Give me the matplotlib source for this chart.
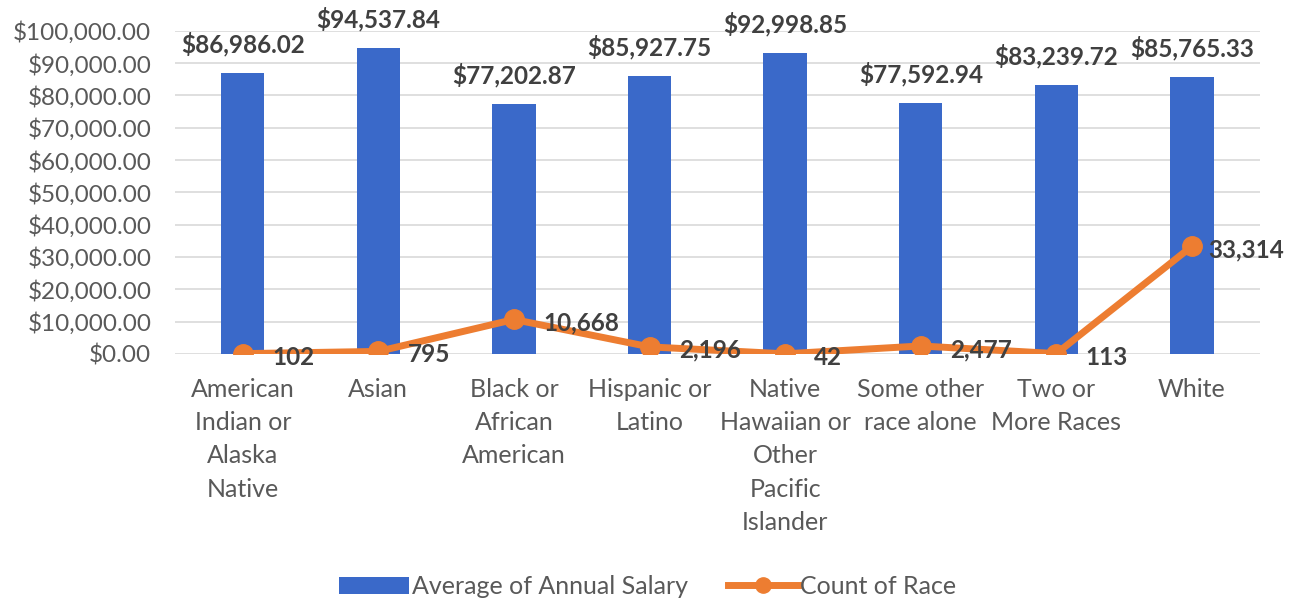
import matplotlib.pyplot as plt
from matplotlib.lines import Line2D
from matplotlib.patches import Patch
from matplotlib.ticker import FuncFormatter

plt.rcParams["font.family"] = ["Lato", "DejaVu Sans"]

categories = [
    "American\nIndian or\nAlaska\nNative",
    "Asian",
    "Black or\nAfrican\nAmerican",
    "Hispanic or\nLatino",
    "Native\nHawaiian or\nOther\nPacific\nIslander",
    "Some other\nrace alone",
    "Two or\nMore Races",
    "White",
]
avg_salary = [86986.02, 94537.84, 77202.87, 85927.75, 92998.85, 77592.94, 83239.72, 85765.33]
race_count = [102, 795, 10668, 2196, 42, 2477, 113, 33314]

BLUE = "#3A69C9"
ORANGE = "#ED7D31"
TEXT = "#404040"
TICK = "#595959"

fig = plt.figure(figsize=(12.96, 6.03), dpi=100)
ax = fig.add_axes([0.135, 0.413, 0.837, 0.536])

x = list(range(len(categories)))
ax.bar(x, avg_salary, width=0.32, color=BLUE, zorder=2)
ax.plot(x, race_count, color=ORANGE, lw=5, marker="o", ms=14, zorder=3,
        solid_capstyle="round")

for xi, v in zip(x, avg_salary):
    ax.annotate(f"${v:,.2f}", (xi, v), xytext=(0, 12), textcoords="offset points",
                ha="center", va="bottom", fontsize=17.5, fontweight="bold",
                color=TEXT, clip_on=False)

for i, (xi, v) in enumerate(zip(x, race_count)):
    # last label gets pulled in so it stays inside the figure
    dx = 12 if i == len(x) - 1 else 21
    ax.annotate(f"{v:,}", (xi, v), xytext=(dx, -2.5), textcoords="offset points",
                ha="left", va="center", fontsize=17.5, fontweight="bold",
                color=TEXT, zorder=4)

ax.set_xlim(-0.5, len(categories) - 0.5)
ax.set_ylim(0, 100000)
ax.set_yticks(range(0, 100001, 10000))
ax.yaxis.set_major_formatter(FuncFormatter(lambda v, _: f"${v:,.2f}"))
ax.set_xticks(x)
ax.set_xticklabels(categories, fontsize=18, color=TICK, linespacing=1.55, va="top")
ax.tick_params(axis="y", labelsize=17.5, labelcolor=TICK, length=0, pad=17)
ax.tick_params(axis="x", length=0, pad=17)
ax.grid(axis="y", color="#D9D9D9", lw=1.2, zorder=0)
for s in ax.spines.values():
    s.set_visible(False)

handles = [
    Patch(facecolor=BLUE, label="Average of Annual Salary"),
    Line2D([0], [0], color=ORANGE, lw=5, marker="o", ms=11, label="Count of Race"),
]
fig.legend(handles=handles, loc="center", bbox_to_anchor=(0.5, 0.027), ncol=2,
           frameon=False, fontsize=18, labelcolor=TICK, handlelength=2.8,
           handletextpad=0.1, columnspacing=1.6)

fig.savefig("out.png", dpi=100)
